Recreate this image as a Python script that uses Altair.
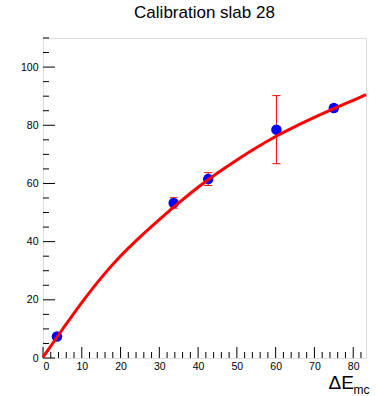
import altair as alt
import pandas as pd

# measured points
pt_x = [3.6, 33.7, 42.6, 60.2, 75.0]
pt_y = [7.4, 53.3, 61.5, 78.5, 85.9]
pt_err = [1.0, 1.8, 2.2, 11.7, 1.2]

# fitted curve
fit_x = [0, 5, 10, 15, 20, 25, 30, 35, 40, 45, 50, 55, 60, 65, 70, 75, 80, 83.3]
fit_y = [0.3, 9.8, 19.05, 27.55, 35.05, 41.55, 47.55, 53.3, 58.7, 63.6, 68.1, 72.3,
         76.15, 79.55, 82.7, 85.7, 88.6, 90.5]

x_major = [0, 10, 20, 30, 40, 50, 60, 70, 80]
x_minor = [v for v in range(0, 84, 2) if v % 10 != 0]
y_major = [0, 20, 40, 60, 80, 100]
y_minor = [v for v in range(0, 111, 5) if v % 20 != 0]

pts = pd.DataFrame({"x": pt_x, "y": pt_y, "err": pt_err})
pts["lo"] = pts["y"] - pts["err"]
pts["hi"] = pts["y"] + pts["err"]
fit = pd.DataFrame({"x": fit_x, "y": fit_y})

FONT = "Liberation Sans"
W, H = 323, 320
xs = alt.Scale(domain=[0, 83.3], nice=False, zero=False)
ys = alt.Scale(domain=[0, 110], nice=False, zero=False)

x_axis = alt.Axis(orient="bottom", values=x_major, ticks=False,
                  domain=False, grid=False, labelFont=FONT, labelFontSize=10.5,
                  labelColor="black", labelPadding=3,
                  title="ΔE", titleFont=FONT, titleFontSize=19,
                  titleFontWeight="normal", titleColor="black",
                  titleX=285, titleY=30, titleAlign="left",
                  titleBaseline="alphabetic", titleAnchor="start")
x_axis2 = alt.Axis(orient="bottom", ticks=False, labels=False,
                   domain=False, grid=False,
                   title="mc", titleFont=FONT, titleFontSize=12,
                   titleFontWeight="normal", titleColor="black",
                   titleX=310, titleY=35, titleAlign="left",
                   titleBaseline="alphabetic", titleAnchor="start")
y_axis = alt.Axis(orient="left", values=y_major, ticks=False,
                  domain=False, grid=False, labelFont=FONT, labelFontSize=10.5,
                  labelColor="black", labelPadding=5, title=None)

# inward tick marks, positioned through the scales
xmaj = alt.Chart(pd.DataFrame({"v": x_major})).mark_rule(color="black", strokeWidth=1).encode(
    x=alt.X("v:Q", scale=xs, axis=None), y=alt.value(H), y2=alt.value(H - 11))
xmin = alt.Chart(pd.DataFrame({"v": x_minor})).mark_rule(color="black", strokeWidth=1).encode(
    x=alt.X("v:Q", scale=xs, axis=None), y=alt.value(H), y2=alt.value(H - 6))
ymaj = alt.Chart(pd.DataFrame({"v": y_major})).mark_rule(color="black", strokeWidth=1).encode(
    y=alt.Y("v:Q", scale=ys, axis=None), x=alt.value(0), x2=alt.value(12))
ymin = alt.Chart(pd.DataFrame({"v": y_minor})).mark_rule(color="black", strokeWidth=1).encode(
    y=alt.Y("v:Q", scale=ys, axis=None), x=alt.value(0), x2=alt.value(6))

rules = alt.Chart(pts).mark_rule(color="red", strokeWidth=1).encode(
    x=alt.X("x:Q", scale=xs, axis=None),
    y=alt.Y("lo:Q", scale=ys, axis=None),
    y2="hi:Q",
)
cap_lo = alt.Chart(pts).mark_tick(color="red", orient="horizontal", size=8,
                                  thickness=1, opacity=1).encode(
    x=alt.X("x:Q", scale=xs, axis=None),
    y=alt.Y("lo:Q", scale=ys, axis=None),
)
cap_hi = alt.Chart(pts).mark_tick(color="red", orient="horizontal", size=8,
                                  thickness=1, opacity=1).encode(
    x=alt.X("x:Q", scale=xs, axis=None),
    y=alt.Y("hi:Q", scale=ys, axis=None),
)
points = alt.Chart(pts).mark_circle(color="#0000ff", size=110, opacity=1).encode(
    x=alt.X("x:Q", scale=xs, axis=x_axis),
    y=alt.Y("y:Q", scale=ys, axis=y_axis),
)
curve = alt.Chart(fit).mark_line(color="#ff0000", strokeWidth=3,
                                 interpolate="monotone").encode(
    x=alt.X("x:Q", scale=xs, axis=x_axis2),
    y=alt.Y("y:Q", scale=ys, axis=None),
)

chart = alt.layer(xmin, xmaj, ymin, ymaj, rules, cap_lo, cap_hi, points, curve).resolve_axis(
    x="independent", y="independent"
).properties(
    width=W,
    height=H,
    title=alt.TitleParams("Calibration slab 28", font=FONT, fontSize=17,
                          fontWeight="normal", color="black", anchor="middle",
                          offset=16),
    autosize=alt.AutoSizeParams(type="none"),
    padding={"left": 43, "top": 38, "right": 12, "bottom": 38},
).configure_view(stroke="black", strokeWidth=1).configure(background="white")

chart.save("out.html", embed_options={"renderer": "svg", "actions": False})
